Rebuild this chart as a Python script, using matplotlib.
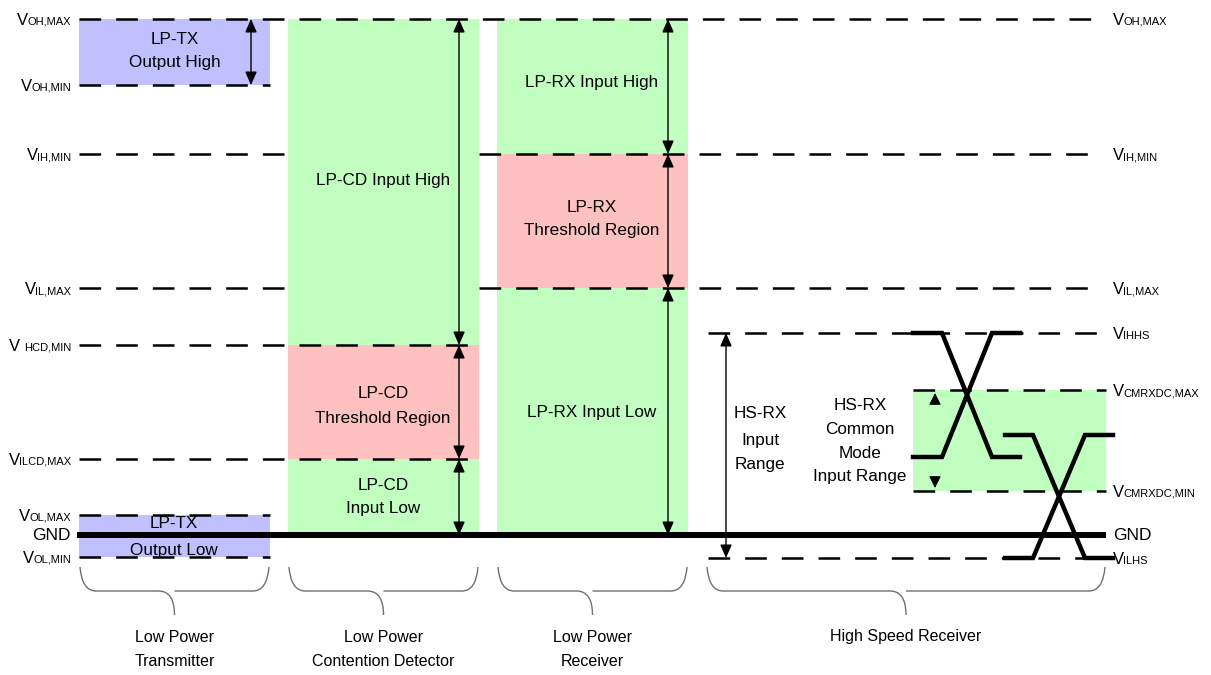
import matplotlib.pyplot as plt
from matplotlib.path import Path
from matplotlib.patches import PathPatch, Rectangle

plt.rcParams['font.family'] = ['Liberation Sans', 'DejaVu Sans']

# ---- data: signal levels (drawing units, 0 = top) ----
left_levels = ['OH,MAX', 'OH,MIN', 'IH,MIN', 'IL,MAX', 'HCD,MIN', 'ILCD,MAX', 'OL,MAX', 'GND', 'OL,MIN']
left_y = [19, 85, 154, 288, 345, 459, 515, 535, 557]
right_levels = ['OH,MAX', 'IH,MIN', 'IL,MAX', 'IHHS', 'CMRXDC,MAX', 'CMRXDC,MIN', 'GND', 'ILHS']
right_y = [19, 154, 288, 333, 390, 491, 535, 558]

# columns
col_names = [['Low Power', 'Transmitter'], ['Low Power', 'Contention Detector'],
             ['Low Power', 'Receiver'], ['High Speed Receiver']]
col_x0 = [79, 288, 497, 706]
col_x1 = [270, 479, 688, 1106]

# shaded regions: (column, top level, bottom level, kind)
regions = [
    (0, 'OH,MAX', 'OH,MIN', 'tx'),
    (0, 'OL,MAX', 'OL,MIN', 'tx'),
    (1, 'OH,MAX', 'HCD,MIN', 'ok'),
    (1, 'HCD,MIN', 'ILCD,MAX', 'thr'),
    (1, 'ILCD,MAX', 'GND', 'ok'),
    (2, 'OH,MAX', 'IH,MIN', 'ok'),
    (2, 'IH,MIN', 'IL,MAX', 'thr'),
    (2, 'IL,MAX', 'GND', 'ok'),
]
region_labels = [
    ['LP-TX', 'Output High'],
    ['LP-TX', 'Output Low'],
    ['LP-CD Input High'],
    ['LP-CD', 'Threshold Region'],
    ['LP-CD', 'Input Low'],
    ['LP-RX Input High'],
    ['LP-RX', 'Threshold Region'],
    ['LP-RX Input Low'],
]
label_x = [175, 174, 383, 383, 383, 592, 592, 592]
label_ys = [[40, 63], [523, 550], [180], [393, 418], [486, 508], [83], [207, 231], [412]]

# differential pairs crossing in HS receiver
eye1_x = [913, 942, 992, 1020]
eye1_a = [333, 333, 457, 457]
eye1_b = [457, 457, 333, 333]
eye2_x = [1005, 1033, 1085, 1113]
eye2_a = [435, 435, 558, 558]
eye2_b = [558, 558, 435, 435]

colors = {'tx': '#c0c0ff', 'ok': '#c0ffc0', 'thr': '#ffc0c0'}

fig = plt.figure(figsize=(12.11, 6.75), dpi=100)
ax = fig.add_axes([0, 0, 1, 1])
ax.set_xlim(0, 1211)
ax.set_ylim(675, 0)
ax.axis('off')
renderer = fig.canvas.get_renderer()

FS = 12.3
lvl = dict(zip(left_levels, left_y))
lvl.update(dict(zip(right_levels, right_y)))


def lines_text(x, ys, lines, fs=FS, z=3):
    for yy, s in zip(ys, lines):
        ax.text(x, yy, s, ha='center', va='center', fontsize=fs, zorder=z)


# fills
for (c, top, bot, kind), lab, lx, lys in zip(regions, region_labels, label_x, label_ys):
    ax.add_patch(Rectangle((col_x0[c], lvl[top]), col_x1[c] - col_x0[c],
                           lvl[bot] - lvl[top], fc=colors[kind], ec='none', zorder=1))
    lines_text(lx, lys, lab)
ax.add_patch(Rectangle((913, lvl['CMRXDC,MAX']), 193,
                       lvl['CMRXDC,MIN'] - lvl['CMRXDC,MAX'],
                       fc=colors['ok'], ec='none', zorder=1))

# dashed level lines
dash_lw = 1.8
dash = (0, (15.6 / dash_lw, 10.8 / dash_lw))
segments = {
    'OH,MAX': [(79, 1100)],
    'OH,MIN': [(79, 270)],
    'IH,MIN': [(79, 288), (479, 1100)],
    'IL,MAX': [(79, 288), (479, 1100)],
    'HCD,MIN': [(79, 479)],
    'ILCD,MAX': [(79, 479)],
    'OL,MAX': [(79, 270)],
    'OL,MIN': [(79, 270)],
    'IHHS': [(708, 1100)],
    'CMRXDC,MAX': [(913, 1106)],
    'CMRXDC,MIN': [(913, 1106)],
    'ILHS': [(708, 1100)],
}
for name, segs in segments.items():
    for a, b in segs:
        ax.plot([a, b], [lvl[name]] * 2, color='black', lw=dash_lw, ls=dash,
                zorder=2)

# GND rail
ax.plot([77, 1106], [lvl['GND']] * 2, color='black', lw=4.3,
        solid_capstyle='butt', zorder=5)


# level labels: V with a small subscript on the same baseline
def vlabel(x, y, sub, side, gap=0):
    if sub == 'GND':
        ax.text(x, y + 1, 'GND', ha='left' if side == 'right' else 'right',
                va='center', fontsize=12.5)
        return
    base = y + 6
    if side == 'right':
        tv = ax.text(x, base, 'V', fontsize=12, ha='left', va='baseline')
        w = tv.get_window_extent(renderer).width
        ax.text(x + w - 1 + gap, base, sub, fontsize=8, ha='left', va='baseline')
    else:
        ts = ax.text(x, base, sub, fontsize=8, ha='right', va='baseline')
        w = ts.get_window_extent(renderer).width
        ax.text(x - w + 1 - gap, base, 'V', fontsize=12, ha='right', va='baseline')


for name, y in zip(left_levels, left_y):
    vlabel(71, y, name, 'left', gap=5 if name == 'HCD,MIN' else 0)
for name, y in zip(right_levels, right_y):
    vlabel(1113, y, name, 'right')


# double arrows
def darrow(x, y0, y1):
    ax.annotate('', xy=(x, y1), xytext=(x, y0),
                arrowprops=dict(arrowstyle='<|-|>,head_length=0.5,head_width=0.22',
                                color='black', lw=1, mutation_scale=16,
                                shrinkA=0, shrinkB=0),
                zorder=4)


darrow(251, lvl['OH,MAX'], lvl['OH,MIN'])
darrow(459, lvl['OH,MAX'], lvl['HCD,MIN'])
darrow(459, lvl['HCD,MIN'], lvl['ILCD,MAX'])
darrow(459, lvl['ILCD,MAX'], lvl['GND'])
darrow(668, lvl['OH,MAX'], lvl['IH,MIN'])
darrow(668, lvl['IH,MIN'], lvl['IL,MAX'])
darrow(668, lvl['IL,MAX'], lvl['GND'])
darrow(726, lvl['IHHS'], lvl['ILHS'])

# small markers inside the common-mode range
for yy, d in [(lvl['CMRXDC,MAX'], 1), (lvl['CMRXDC,MIN'], -1)]:
    ax.annotate('', xy=(935, yy + 3 * d), xytext=(935, yy + 11 * d),
                arrowprops=dict(arrowstyle='-|>,head_length=0.4,head_width=0.2',
                                color='black', lw=0.8, mutation_scale=18,
                                shrinkA=0, shrinkB=0))

lines_text(760, [414, 440, 465], ['HS-RX', 'Input', 'Range'])
lines_text(860, [405, 429, 453, 477], ['HS-RX', 'Common', 'Mode', 'Input Range'])

# eye crossings
for xs, ya, yb in [(eye1_x, eye1_a, eye1_b), (eye2_x, eye2_a, eye2_b)]:
    ax.plot(xs, ya, color='black', lw=3.2, solid_joinstyle='miter', zorder=6)
    ax.plot(xs, yb, color='black', lw=3.2, solid_joinstyle='miter', zorder=6)


# braces and group names
def brace(x0, x1, top=567, mid=591, tip=615):
    xm = (x0 + x1) / 2
    r = 16
    verts = [(x0, top), (x0 + 2, mid), (x0 + r, mid),
             (xm - r, mid), (xm, mid), (xm, tip),
             (xm, mid), (xm + r, mid),
             (x1 - r, mid), (x1 - 2, mid), (x1, top)]
    codes = [Path.MOVETO, Path.CURVE3, Path.CURVE3,
             Path.LINETO, Path.CURVE3, Path.CURVE3,
             Path.MOVETO, Path.CURVE3,
             Path.LINETO, Path.CURVE3, Path.CURVE3]
    ax.add_patch(PathPatch(Path(verts, codes), fc='none', ec='#707070', lw=1))


for x0, x1, name in zip(col_x0, col_x1, col_names):
    brace(x0 + 1, x1 - 1)
    lines_text((x0 + x1) / 2, [637, 662][:len(name)], name, fs=11.5)

fig.savefig('out.png', dpi=100)
